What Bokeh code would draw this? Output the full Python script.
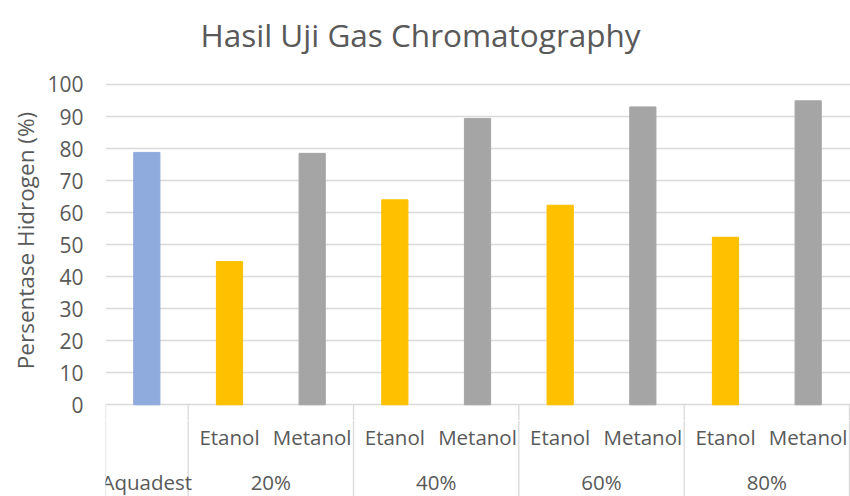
from bokeh.plotting import figure
from bokeh.models import Range1d, FixedTicker, ColumnDataSource, LabelSet
from bokeh.layouts import column
from bokeh.core.properties import value
from bokeh.embed import file_html
from bokeh.resources import INLINE

# ---- data ----
title_text = "Hasil Uji Gas Chromatography"
groups = ["Aquadest", "20%", "40%", "60%", "80%"]
group_sizes = [1, 2, 2, 2, 2]
solvents = ["", "Etanol", "Metanol", "Etanol", "Metanol", "Etanol", "Metanol", "Etanol", "Metanol"]
values_pct = [78.8, 44.7, 78.5, 64.0, 89.4, 62.3, 93.0, 52.3, 94.9]
y_ticks = [0, 10, 20, 30, 40, 50, 60, 70, 80, 90, 100]

FONT = "Open Sans"
TXT = "#595959"
GRID = "#D9D9D9"
palette = {"": "#8FAADC", "Etanol": "#FFC000", "Metanol": "#A5A5A5"}

W = 850
LEFT = 105
TOP = 60
H1 = 420
n = len(values_pct)
xs = [i + 0.5 for i in range(n)]
src = ColumnDataSource(dict(x=xs, top=values_pct, color=[palette[s] for s in solvents]))

bounds = [0]
for s in group_sizes:
    bounds.append(bounds[-1] + s)
sep_x = list(bounds)

xr = Range1d(0, n + 0.012)
Y0, Y1 = -4.9, 107.49
p = figure(width=W, height=H1, x_range=xr, y_range=Range1d(Y0, Y1),
           output_backend="svg", toolbar_location=None, x_axis_type=None,
           min_border_left=LEFT, min_border_right=0, min_border_top=TOP, min_border_bottom=0)
p.outline_line_color = None
p.vbar(x="x", top="top", width=0.317, bottom=0, color="color", source=src)
p.segment(x0=sep_x, y0=[Y0] * len(sep_x), x1=sep_x, y1=[0] * len(sep_x),
          line_color=GRID, line_width=1.3)

p.title.text = title_text
p.title.text_font = FONT
p.title.text_font_size = "31.5px"
p.title.text_font_style = "normal"
p.title.text_color = TXT
p.title.align = "left"
p.title.offset = 95
p.title.standoff = 10

yax = p.yaxis[0]
yax.ticker = FixedTicker(ticks=y_ticks)
yax.axis_line_color = None
yax.major_tick_line_color = None
yax.minor_tick_line_color = None
yax.major_tick_out = 0
yax.major_tick_in = 0
yax.major_label_standoff = 22
yax.major_label_text_font = FONT
yax.major_label_text_font_size = "21px"
yax.major_label_text_color = TXT
yax.axis_label = "Persentase Hidrogen (%)"
yax.axis_label_text_font = FONT
yax.axis_label_text_font_size = "22.5px"
yax.axis_label_text_font_style = "normal"
yax.axis_label_text_color = TXT
yax.axis_label_standoff = 3

p.xgrid.visible = False
p.ygrid.ticker = FixedTicker(ticks=y_ticks)
p.ygrid.grid_line_color = GRID
p.ygrid.grid_line_width = 1.3

# ---- category table below ----
H2 = 76
q = figure(width=W, height=H2, x_range=xr, y_range=Range1d(0, H2),
           output_backend="svg", toolbar_location=None, x_axis_type=None, y_axis_type=None,
           min_border_left=LEFT, min_border_right=0, min_border_top=0, min_border_bottom=0)
q.outline_line_color = None
q.grid.visible = False
q.segment(x0=sep_x, y0=[0] * len(sep_x), x1=sep_x, y1=[H2] * len(sep_x),
          line_color=GRID, line_width=1.3)

lvl1 = [(x, s) for x, s in zip(xs, solvents) if s]
src1 = ColumnDataSource(dict(x=[a for a, _ in lvl1], y=[H2 - 16] * len(lvl1),
                             text=[b for _, b in lvl1]))
q.add_layout(LabelSet(x="x", y="y", text="text", source=src1,
                      text_align="center", text_baseline="middle", text_font=value(FONT),
                      text_font_size=value("20.5px"), text_color=value(TXT)))

gx = [(bounds[i] + bounds[i + 1]) / 2 for i in range(len(groups))]
src2 = ColumnDataSource(dict(x=gx, y=[15] * len(gx), text=groups))
q.add_layout(LabelSet(x="x", y="y", text="text", source=src2,
                      text_align="center", text_baseline="middle", text_font=value(FONT),
                      text_font_size=value("20.5px"), text_color=value(TXT)))

layout = column(p, q, spacing=0)
open("out.html", "w").write(file_html(layout, INLINE))
